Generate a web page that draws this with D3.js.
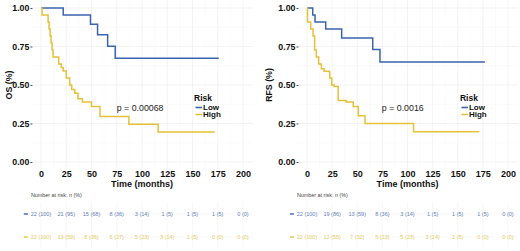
<!DOCTYPE html>
<html>
<head>
<meta charset="utf-8">
<script src="https://cdn.jsdelivr.net/npm/d3@7"></script>
<style>
  body { margin: 0; background: #fff; }
  svg { display: block; font-family: "Liberation Sans", Arial, sans-serif; }
</style>
</head>
<body>
<div id="chart"></div>
<script>
// time ticks for both panels
var timeTicks = [0, 25, 50, 75, 100, 125, 150, 175, 200];
var survTicks = [0, 0.25, 0.5, 0.75, 1];

// OS curves (step times in months, survival after the step)
var osLowTime = [0, 22, 49, 56, 66, 73.5];
var osLowSurv = [1, 0.955, 0.894, 0.826, 0.752, 0.673];
var osLowEnd = 176;
var osHighTime = [0, 1, 7, 8, 9, 10, 11, 12, 17.5, 20, 22, 25, 28.4, 30.4, 33.5, 36.6, 41, 50, 58.4, 87, 116];
var osHighSurv = [1, 0.955, 0.909, 0.864, 0.818, 0.773, 0.727, 0.682, 0.636, 0.614, 0.591, 0.545, 0.50, 0.47, 0.446, 0.41, 0.39, 0.36, 0.295, 0.245, 0.195];
var osHighEnd = 172;

// RFS curves
var rfsLowTime = [0, 5.7, 8, 18.6, 34.5, 65.4, 72.6];
var rfsLowSurv = [1, 0.955, 0.909, 0.864, 0.806, 0.73, 0.65];
var rfsLowEnd = 177;
var rfsHighTime = [0, 0.5, 3.7, 6, 7.6, 9.3, 11.6, 14.3, 17, 22.6, 24.6, 27, 31, 39, 46, 51, 57.7, 106];
var rfsHighSurv = [1, 0.909, 0.864, 0.818, 0.727, 0.682, 0.636, 0.605, 0.59, 0.545, 0.50, 0.49, 0.40, 0.39, 0.36, 0.30, 0.25, 0.197];
var rfsHighEnd = 171.5;

// numbers at risk
var osLowRisk = ["22 (100)", "21 (95)", "15 (68)", "8 (36)", "3 (14)", "1 (5)", "1 (5)", "1 (5)", "0 (0)"];
var osHighRisk = ["22 (100)", "13 (59)", "8 (36)", "6 (27)", "5 (23)", "3 (14)", "1 (5)", "0 (0)", "0 (0)"];
var rfsLowRisk = ["22 (100)", "19 (86)", "13 (59)", "8 (36)", "3 (14)", "1 (5)", "1 (5)", "1 (5)", "0 (0)"];
var rfsHighRisk = ["22 (100)", "12 (55)", "7 (32)", "5 (23)", "5 (23)", "3 (14)", "1 (5)", "0 (0)", "0 (0)"];

var groups = ["Low", "High"];
var color = d3.scaleOrdinal().domain(groups).range(["#3b64b0", "#e5c13a"]);
var textColor = d3.scaleOrdinal().domain(groups).range(["#6581b6", "#e3cc62"]);

var svg = d3.select("#chart")
  .append("svg")
  .attr("width", 520)
  .attr("height", 251);

function stepData(times, surv, end) {
  var pts = times.map(function(t, i) { return { t: t, s: surv[i] }; });
  pts.push({ t: end, s: surv[surv.length - 1] });
  return pts;
}

function drawPanel(p) {
  var x = d3.scaleLinear().domain([0, 200]).range([p.x0, p.x200]);
  var y = d3.scaleLinear().domain([0, 1]).range([162, 8]);
  var g = svg.append("g");

  // grid: minor then major
  var minorX = d3.range(12.5, 210, 25);
  var minorY = [0.125, 0.375, 0.625, 0.875];
  g.selectAll(".gmx").data(minorX).enter().append("line")
    .attr("x1", d => x(d)).attr("x2", d => x(d))
    .attr("y1", y(1.05)).attr("y2", y(-0.05))
    .attr("stroke", "#f6f6f6").attr("stroke-width", 0.5);
  g.selectAll(".gmy").data(minorY).enter().append("line")
    .attr("x1", x(-10)).attr("x2", x(210))
    .attr("y1", d => y(d)).attr("y2", d => y(d))
    .attr("stroke", "#f6f6f6").attr("stroke-width", 0.5);
  g.selectAll(".gx").data(timeTicks).enter().append("line")
    .attr("x1", d => x(d)).attr("x2", d => x(d))
    .attr("y1", y(1.05)).attr("y2", y(-0.05))
    .attr("stroke", "#eeeeee").attr("stroke-width", 0.7);
  g.selectAll(".gy").data(survTicks).enter().append("line")
    .attr("x1", x(-10)).attr("x2", x(210))
    .attr("y1", d => y(d)).attr("y2", d => y(d))
    .attr("stroke", "#eeeeee").attr("stroke-width", 0.7);

  // y axis
  var yAxis = g.append("g")
    .attr("transform", "translate(" + (x(-10) + 1.5) + ",0)")
    .call(d3.axisLeft(y).tickValues(survTicks).tickFormat(d3.format(".2f")).tickSize(2).tickPadding(1));
  yAxis.select(".domain").remove();
  yAxis.selectAll("line").attr("stroke", "#555");
  yAxis.selectAll("text").attr("font-size", 8.8).attr("font-weight", "bold")
    .attr("fill", "#111").attr("font-family", "Liberation Sans, Arial, sans-serif");

  // x axis labels
  var xAxis = g.append("g")
    .attr("transform", "translate(0,169)")
    .call(d3.axisBottom(x).tickValues(timeTicks).tickSize(0).tickPadding(2));
  xAxis.select(".domain").remove();
  xAxis.selectAll("text").attr("font-size", 9).attr("font-weight", "bold")
    .attr("fill", "#111").attr("font-family", "Liberation Sans, Arial, sans-serif");

  g.append("text")
    .attr("x", x(100)).attr("y", 186.5)
    .attr("text-anchor", "middle")
    .attr("font-size", 9).attr("font-weight", "bold").attr("fill", "#111")
    .text("Time (months)");

  g.append("text")
    .attr("transform", "translate(" + p.ytitleX + "," + y(0.5) + ") rotate(-90)")
    .attr("text-anchor", "middle")
    .attr("font-size", 8.8).attr("font-weight", "bold").attr("fill", "#111")
    .text(p.ytitle);

  // curves
  var line = d3.line()
    .x(d => x(d.t))
    .y(d => y(d.s))
    .curve(d3.curveStepAfter);
  p.curves.forEach(function(c) {
    g.append("path")
      .datum(stepData(c.time, c.surv, c.end))
      .attr("fill", "none")
      .attr("stroke", color(c.group))
      .attr("stroke-width", 1.5)
      .attr("d", line);
  });

  // p-value
  g.append("text")
    .attr("x", x(p.pAt)).attr("y", 111)
    .attr("font-size", 8.8).attr("fill", "#222")
    .text(p.pText);

  // legend
  var lg = g.append("g").attr("transform", "translate(" + x(p.legAt) + ",0)");
  lg.append("text").attr("x", 0).attr("y", 101)
    .attr("font-size", 8.5).attr("font-weight", "bold").attr("fill", "#111")
    .text("Risk");
  groups.forEach(function(gr, i) {
    var yy = 107.5 + i * 7;
    lg.append("line").attr("x1", 1.5).attr("x2", 8)
      .attr("y1", yy).attr("y2", yy)
      .attr("stroke", color(gr)).attr("stroke-width", 1.6);
    lg.append("text").attr("x", 9).attr("y", yy + 2.8)
      .attr("font-size", 8).attr("font-weight", "bold").attr("fill", "#111")
      .text(gr);
  });

  // risk table
  var tg = g.append("g");
  tg.selectAll(".tgx").data(timeTicks).enter().append("line")
    .attr("x1", d => x(d)).attr("x2", d => x(d))
    .attr("y1", 202).attr("y2", 248)
    .attr("stroke", "#f4f4f4").attr("stroke-width", 0.6);
  [214, 237].forEach(function(yy) {
    tg.append("line").attr("x1", x(-10)).attr("x2", x(210))
      .attr("y1", yy).attr("y2", yy)
      .attr("stroke", "#f4f4f4").attr("stroke-width", 0.6);
  });
  tg.append("text")
    .attr("x", x(-10)).attr("y", 196.5)
    .attr("font-size", 5.4).attr("fill", "#444")
    .text("Number at risk: n (%)");
  p.risk.forEach(function(r, i) {
    var yy = i === 0 ? 214 : 237;
    tg.append("line").attr("x1", x(-17)).attr("x2", x(-13))
      .attr("y1", yy).attr("y2", yy)
      .attr("stroke", color(r.group)).attr("stroke-width", 1.4);
    tg.selectAll(null).data(r.values).enter().append("text")
      .attr("x", (d, j) => x(timeTicks[j]))
      .attr("y", yy + 2)
      .attr("text-anchor", "middle")
      .attr("font-size", 5.5)
      .attr("fill", textColor(r.group))
      .text(d => d);
  });
}

drawPanel({
  x0: 41, x200: 243, ytitle: "OS (%)", ytitleX: 12,
  pText: "p = 0.00068", pAt: 75, legAt: 151.5,
  curves: [
    { group: "Low", time: osLowTime, surv: osLowSurv, end: osLowEnd },
    { group: "High", time: osHighTime, surv: osHighSurv, end: osHighEnd }
  ],
  risk: [
    { group: "Low", values: osLowRisk },
    { group: "High", values: osHighRisk }
  ]
});

drawPanel({
  x0: 307, x200: 508, ytitle: "RFS (%)", ytitleX: 272,
  pText: "p = 0.0016", pAt: 74.5, legAt: 152.2,
  curves: [
    { group: "Low", time: rfsLowTime, surv: rfsLowSurv, end: rfsLowEnd },
    { group: "High", time: rfsHighTime, surv: rfsHighSurv, end: rfsHighEnd }
  ],
  risk: [
    { group: "Low", values: rfsLowRisk },
    { group: "High", values: rfsHighRisk }
  ]
});
</script>
</body>
</html>
